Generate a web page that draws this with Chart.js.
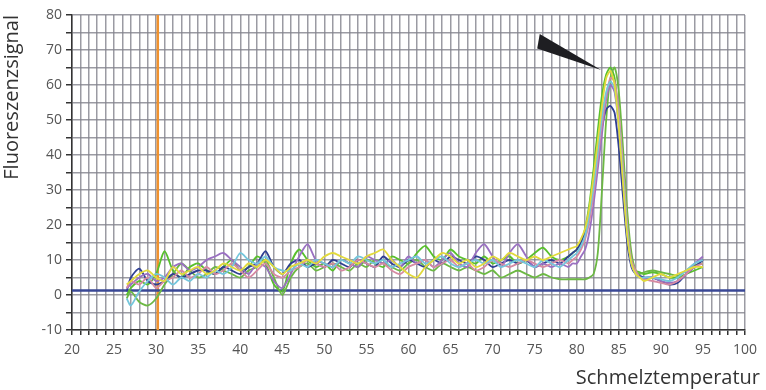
<!DOCTYPE html>
<html lang="de">
<head>
<meta charset="UTF-8" />
<title>Schmelzkurve</title>
<script src="https://cdn.jsdelivr.net/npm/chart.js"></script>
<style>
  html, body { margin: 0; padding: 0; background: #fff; }
  #wrap { position: relative; width: 766px; height: 390px; }
</style>
</head>
<body>
<div id="wrap"><canvas id="meltChart"></canvas></div>
<script>
// Schmelztemperatur (x-Werte)
const temps = [26.5, 27, 28, 29, 30, 31, 32, 33, 34, 35, 36, 37, 38, 39, 40, 41, 42, 43, 44, 45,
  46, 47, 48, 49, 50, 51, 52, 53, 54, 55, 56, 57, 58, 59, 60, 61, 62, 63, 64, 65,
  66, 67, 68, 69, 70, 71, 72, 73, 74, 75, 76, 77, 78, 79, 79.5, 80, 80.5, 81, 81.5, 82,
  82.5, 83, 83.5, 84, 84.5, 85, 85.5, 86, 86.5, 87, 87.5, 88, 89, 90, 91, 92, 93, 94, 95];

// Fluoreszenzsignal je Probe
const yellow = [3, 4, 6, 7, 5, 4, 8, 6, 7, 8, 6, 7, 9, 8, 7, 9, 8, 10, 8, 6,
  8, 9, 10, 9, 11, 12, 11, 10, 9, 11, 12, 13, 10, 8, 6, 5, 8, 10, 12, 11,
  9, 10, 8, 9, 11, 10, 12, 11, 10, 11, 10, 11, 12, 13, 13.5, 14, 16, 19, 25, 34,
  44, 54, 62, 64, 60, 48, 32, 17, 9, 6, 5, 4, 5, 6, 5, 6, 7, 8, 8];
const cyan = [-1, -3, 1, 4, 6, 5, 3, 5, 4, 6, 5, 7, 6, 8, 12, 10, 9, 11, 8, 7,
  7, 9, 8, 10, 9, 8, 10, 9, 11, 10, 9, 10, 8, 9, 10, 11, 9, 10, 11, 9,
  8, 9, 10, 9, 10, 8, 9, 10, 9, 8, 10, 9, 8, 10, 11, 12, 14, 17, 23, 31,
  41, 51, 58, 61, 59, 49, 34, 18, 9, 6, 5, 5, 5, 4.5, 4, 5, 7, 9, 10];
const pink = [2, 4, 3, 5, 2, 4, 5, 7, 5, 6, 8, 6, 7, 9, 7, 5, 7, 9, 6, 5,
  7, 8, 10, 9, 8, 9, 7, 8, 10, 9, 8, 9, 7, 6, 8, 9, 10, 8, 9, 10,
  8, 9, 7, 8, 10, 9, 8, 9, 10, 9, 8, 9, 10, 9, 10, 11, 13, 16, 21, 29,
  39, 49, 57, 62, 61, 52, 37, 20, 10, 7, 5, 4.5, 4, 3.5, 3, 4, 6, 8, 9];
const purple = [2, 3, 5, 6, 4, 5, 8, 9, 7, 8, 10, 11, 12, 10, 8, 6, 9, 8, 4, 2,
  6, 11, 14.5, 10, 9, 8, 10, 9, 8, 11, 10, 9, 10, 8, 11, 9, 10, 8, 10, 12,
  9, 8, 12, 14.5, 11, 8, 12, 14.5, 11, 8, 9, 8, 9, 8, 9, 9, 11, 13, 18, 26,
  36, 46, 56, 60, 58, 48, 33, 18, 9, 6, 5, 4.5, 5, 4, 3.5, 4, 6, 9, 11];
const darkBlue = [1, 5, 7.5, 4, 3, 4, 6, 5, 6, 7, 7, 6, 8, 7, 6, 8, 9, 12.5, 8, 6,
  9, 10, 8, 9, 8, 10, 9, 8, 10, 9, 8, 11, 9, 8, 10, 9, 8, 10, 9, 11,
  10, 9, 11, 10, 8, 9, 10, 9, 10, 8, 9, 10, 9, 11, 12, 13, 15, 18, 24, 32,
  40, 48, 53, 54, 52, 42, 28, 15, 8, 6, 5.5, 5, 5, 4, 3, 3.5, 6, 8, 10];
const green1 = [0, 2, 4, 3, 6, 12.5, 7, 5, 8, 9, 7, 6, 8, 10, 7, 8, 11, 9, 3, 1,
  9, 13, 10, 8, 9, 7, 10, 9, 8, 10, 9, 8, 11, 10, 9, 12, 14, 11, 10, 13,
  11, 10, 9, 11, 9, 10, 11, 9, 10, 12, 13.5, 11, 10, 11, 12, 13, 15, 19, 26, 36,
  47, 57, 63, 65, 62, 50, 34, 18, 9, 7, 6.5, 6, 6.5, 6, 5, 5, 6, 7, 8];
const green2 = [-1, 1, -2, -3, -1, 3, 6, 9, 7, 5, 6, 8, 7, 6, 5, 7, 8, 10, 5, 0,
  5, 8, 9, 7, 8, 9, 8, 7, 9, 8, 10, 9, 8, 7, 9, 10, 8, 7, 9, 8,
  7, 8, 7, 6, 7, 5, 6, 7, 6, 5, 6, 5, 4.5, 4.5, 4.5, 4.5, 4.5, 4.5, 5, 6,
  12, 30, 50, 62, 65, 58, 42, 24, 12, 7, 6, 6.5, 7, 6.5, 6, 5.5, 7, 8.5, 9];

// Hilfslinien
const baselineX = [20, 100];
const baselineY = [1.3, 1.3];
const markerX = [30.2, 30.2];
const markerY = [-10, 80];

// Pfeilspitze (Datenkoordinaten)
const arrowX = [75.6, 75.3, 82.9];
const arrowY = [74.6, 70.4, 64.3];

const xTicks = [20, 25, 30, 35, 40, 45, 50, 55, 60, 65, 70, 75, 80, 85, 90, 95, 100];
const yTicks = [-10, 0, 10, 20, 30, 40, 50, 60, 70, 80];

const pts = (xs, ys) => xs.map((x, i) => ({ x: x, y: ys[i] }));

const samples = [
  { data: yellow, color: '#e2da3c' },
  { data: cyan, color: '#74c6dc' },
  { data: pink, color: '#d68aa2' },
  { data: purple, color: '#9a70c2' },
  { data: darkBlue, color: '#2f3f92' },
  { data: green2, color: '#6cb844' },
  { data: green1, color: '#58c02c' }
];

const datasets = samples.map(s => ({
  data: pts(temps, s.data),
  borderColor: s.color,
  borderWidth: 1.8,
  pointRadius: 0,
  tension: 0.25
}));

datasets.push({
  data: pts(baselineX, baselineY),
  borderColor: '#3a4896',
  borderWidth: 2.5,
  pointRadius: 0
});
datasets.push({
  data: pts(markerX, markerY),
  borderColor: '#f0922e',
  borderWidth: 2.5,
  pointRadius: 0
});

const arrowPlugin = {
  id: 'arrow',
  afterDatasetsDraw(chart) {
    const { ctx, scales: { x, y } } = chart;
    ctx.save();
    ctx.beginPath();
    arrowX.forEach((v, i) => {
      const px = x.getPixelForValue(v), py = y.getPixelForValue(arrowY[i]);
      if (i === 0) ctx.moveTo(px, py); else ctx.lineTo(px, py);
    });
    ctx.closePath();
    ctx.fillStyle = '#1e1e22';
    ctx.fill();
    ctx.restore();
  }
};

// x-Achsentitel rechtsbündig am Bildrand
const xTitlePlugin = {
  id: 'xTitle',
  afterDraw(chart) {
    const { ctx, width, height } = chart;
    ctx.save();
    ctx.font = '20px "Open Sans"';
    ctx.fillStyle = '#333';
    ctx.textAlign = 'right';
    ctx.textBaseline = 'alphabetic';
    ctx.fillText('Schmelztemperatur', width - 6, height - 6);
    ctx.restore();
  }
};

const gridGray = 'rgba(130, 130, 140, 0.8)';

new Chart(document.getElementById('meltChart'), {
  type: 'line',
  data: { datasets: datasets },
  options: {
    responsive: true,
    maintainAspectRatio: false,
    animation: false,
    layout: { padding: { top: 15, right: 21, left: 0, bottom: 0 } },
    plugins: { legend: { display: false }, tooltip: { enabled: false } },
    scales: {
      x: {
        type: 'linear',
        min: 20,
        max: 100,
        afterBuildTicks: axis => {
          const t = [];
          for (let v = 20; v <= 100; v++) t.push({ value: v });
          axis.ticks = t;
        },
        afterFit: scale => { scale.height = 60; },
        grid: { color: gridGray, lineWidth: 1.5, tickLength: 5, tickColor: '#333' },
        border: { color: '#333', width: 1.5 },
        ticks: {
          autoSkip: false,
          maxRotation: 0,
          padding: 7,
          color: '#555',
          font: { family: 'Open Sans', size: 14 },
          callback: v => (xTicks.includes(v) ? v : '')
        }
      },
      y: {
        min: -10,
        max: 80,
        afterBuildTicks: axis => {
          const t = [];
          for (let v = -10; v <= 80; v += 5) t.push({ value: v });
          axis.ticks = t;
        },
        afterFit: scale => { scale.width = 72; },
        grid: { color: gridGray, lineWidth: 1.5, tickLength: 6, tickColor: '#333' },
        border: { color: '#333', width: 1.5 },
        ticks: {
          autoSkip: false,
          padding: 4,
          color: '#555',
          font: { family: 'Open Sans', size: 14 },
          callback: v => (yTicks.includes(v) ? v : '')
        },
        title: {
          display: true,
          text: 'Fluoreszenzsignal',
          align: 'end',
          color: '#333',
          font: { family: 'Open Sans', size: 20 },
          padding: { top: 0, bottom: 0 }
        }
      }
    }
  },
  plugins: [arrowPlugin, xTitlePlugin]
});
</script>
</body>
</html>
